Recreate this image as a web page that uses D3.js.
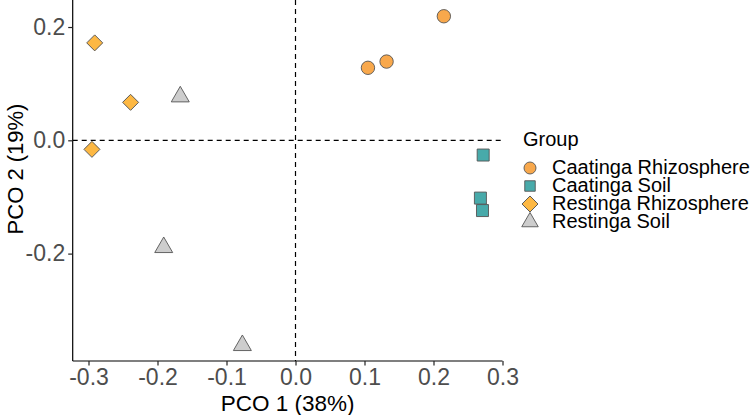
<!DOCTYPE html>
<html>
<head>
<meta charset="utf-8">
<script src="https://cdn.jsdelivr.net/npm/d3@7"></script>
<style>
  html, body { margin: 0; padding: 0; background: #fff; }
  svg { display: block; font-family: "Liberation Sans", Arial, sans-serif; }
</style>
</head>
<body>
<svg id="chart" width="750" height="415"></svg>
<script>
// ---- data ----
const groups = ["Caatinga Rhizosphere", "Caatinga Soil", "Restinga Rhizosphere", "Restinga Soil"];
const caatingaRhizoX = [0.105, 0.132, 0.215];
const caatingaRhizoY = [0.128, 0.139, 0.219];
const caatingaSoilX = [0.272, 0.268, 0.271];
const caatingaSoilY = [-0.026, -0.102, -0.124];
const restingaRhizoX = [-0.291, -0.239, -0.295];
const restingaRhizoY = [0.172, 0.067, -0.016];
const restingaSoilX = [-0.167, -0.191, -0.077];
const restingaSoilY = [0.077, -0.189, -0.362];
const xTicks = [-0.3, -0.2, -0.1, 0.0, 0.1, 0.2, 0.3];
const yTicks = [-0.2, 0.0, 0.2];
const xTitle = "PCO 1 (38%)";
const yTitle = "PCO 2 (19%)";
const legendTitle = "Group";

const seriesX = [caatingaRhizoX, caatingaSoilX, restingaRhizoX, restingaSoilX];
const seriesY = [caatingaRhizoY, caatingaSoilY, restingaRhizoY, restingaSoilY];

// ---- styles ----
const fills = ["#F8A84C", "#48AAAA", "#FDB843", "#CDCDCD"];
const symbolTypes = [d3.symbolCircle, d3.symbolSquare, d3.symbolSquare, d3.symbolTriangle];
const symbolSizes = [141, 144, 128, 140];
const rotations = [0, 0, 45, 0];
const legendSizes = [113, 110, 128, 118];

const svg = d3.select("#chart");
svg.append("rect").attr("width", 750).attr("height", 415).attr("fill", "#fff");

const pLeft = 72.7, pRight = 502.5, pTop = 0, pBottom = 361;
const x = d3.scaleLinear().domain([-0.3229, 0.3]).range([pLeft, pRight]);
const y = d3.scaleLinear().domain([-0.3896, 0.2477]).range([pBottom, pTop]);

// reference dashed lines
svg.append("line")
  .attr("x1", pLeft).attr("x2", pRight)
  .attr("y1", y(0)).attr("y2", y(0))
  .attr("stroke", "#000").attr("stroke-width", 1.2).attr("stroke-dasharray", "5,4");
svg.append("line")
  .attr("x1", x(0)).attr("x2", x(0))
  .attr("y1", pTop).attr("y2", pBottom)
  .attr("stroke", "#000").attr("stroke-width", 1.2).attr("stroke-dasharray", "5,4");

// axes
const fmt = d => d3.format(".1f")(d).replace("\u2212", "-");
const xAxis = d3.axisBottom(x).tickValues(xTicks).tickFormat(fmt).tickSize(4.5).tickPadding(3);
const yAxis = d3.axisLeft(y).tickValues(yTicks).tickFormat(fmt).tickSize(4.5).tickPadding(3);

const gx = svg.append("g").attr("transform", `translate(0,${pBottom})`).call(xAxis);
const gy = svg.append("g").attr("transform", `translate(${pLeft},0)`).call(yAxis);
[gx, gy].forEach(g => {
  g.select(".domain").attr("stroke", "#000").attr("stroke-width", 1.2);
  g.selectAll(".tick line").attr("stroke", "#222").attr("stroke-width", 1.2);
  g.selectAll(".tick text").attr("fill", "#4D4D4D").attr("font-size", 23)
    .attr("font-family", "Liberation Sans, Arial, sans-serif");
});
gy.select(".domain").attr("d", `M0,${pTop}V${pBottom}`);
gx.select(".domain").attr("d", `M${pLeft},0H${pRight}`);

// axis titles
svg.append("text").attr("x", (pLeft + pRight) / 2).attr("y", 411)
  .attr("text-anchor", "middle").attr("font-size", 22.5).attr("fill", "#000").text(xTitle);
svg.append("text").attr("transform", `translate(23,169) rotate(-90)`)
  .attr("text-anchor", "middle").attr("font-size", 22).attr("fill", "#000").text(yTitle);

// points
groups.forEach((gname, i) => {
  const sym = d3.symbol().type(symbolTypes[i]).size(symbolSizes[i]);
  const pts = seriesX[i].map((vx, j) => [vx, seriesY[i][j]]);
  svg.append("g").selectAll("path").data(pts).join("path")
    .attr("d", sym)
    .attr("transform", d => `translate(${x(d[0])},${y(d[1])}) rotate(${rotations[i]})`)
    .attr("fill", fills[i])
    .attr("stroke", "#555")
    .attr("stroke-width", 0.9);
});

// legend
const lg = svg.append("g");
lg.append("text").attr("x", 523).attr("y", 146).attr("font-size", 20).attr("fill", "#000").text(legendTitle);
const rowY = [168, 186, 204, 222];
groups.forEach((gname, i) => {
  const sym = d3.symbol().type(symbolTypes[i]).size(legendSizes[i]);
  lg.append("path").attr("d", sym)
    .attr("transform", `translate(530,${rowY[i]}) rotate(${rotations[i]})`)
    .attr("fill", fills[i]).attr("stroke", "#555").attr("stroke-width", 0.9);
  lg.append("text").attr("x", 552).attr("y", rowY[i] + 6)
    .attr("font-size", 20).attr("fill", "#000").text(gname);
});
</script>
</body>
</html>
